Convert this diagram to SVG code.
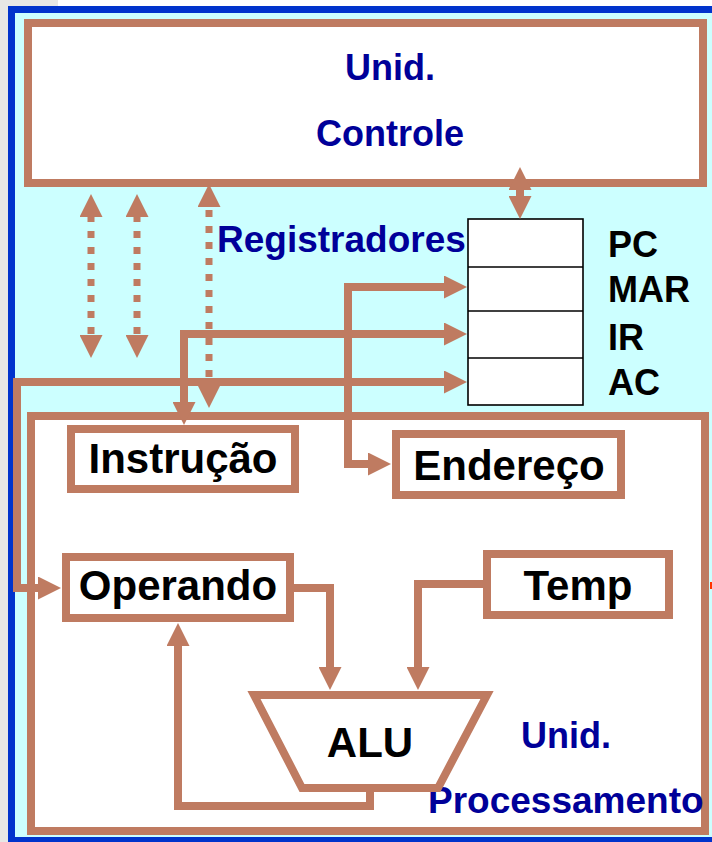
<svg xmlns="http://www.w3.org/2000/svg" width="712" height="842" viewBox="0 0 712 842">
<style>
.box{fill:#ffffff;stroke:#bf7b61;stroke-width:8}
.reg{fill:#ffffff;stroke:#000000;stroke-width:1.6}
.con{fill:none;stroke:#bf7b61;stroke-width:8;stroke-linejoin:miter}
.dot{fill:none;stroke:#bf7b61;stroke-width:7;stroke-dasharray:7 9}
.lbl{font-family:"Liberation Sans",Arial,sans-serif;font-weight:bold;font-size:42px;fill:#000000;text-anchor:middle}
.reglbl{font-family:"Liberation Sans",Arial,sans-serif;font-weight:bold;font-size:36px;fill:#000000}
.blue{font-family:"Liberation Sans",Arial,sans-serif;font-weight:bold;font-size:36px;fill:#000099}
.blue37{font-size:37px}
</style>
<defs>
<marker id="ah" markerUnits="userSpaceOnUse" viewBox="0 0 23 23" markerWidth="23" markerHeight="23" refX="0" refY="11.5" orient="auto-start-reverse">
<path d="M0,0 L23,11.5 L0,23 Z" fill="#bf7b61"/>
</marker>
</defs>
<rect x="0" y="0" width="712" height="842" fill="#ffffff"/>
<rect x="0" y="0" width="8" height="842" fill="#e7e7e5"/>
<rect x="0" y="0" width="58" height="6" fill="#e7e7e5"/>
<rect x="8" y="6" width="720" height="850" fill="#0033cc"/>
<rect x="15" y="13" width="720" height="824" fill="#ccffff"/>
<rect x="710" y="582" width="2" height="7" fill="#ff3300"/>

<g id="unid-controle">
<rect class="box" x="28" y="23" width="675" height="160"/>
<text class="blue" x="390" y="80" text-anchor="middle">Unid.</text>
<text class="blue" x="390" y="146" text-anchor="middle">Controle</text>
</g>

<g id="unid-processamento">
<rect class="box" x="31" y="416" width="674" height="415"/>
<text class="blue" x="521" y="748">Unid.</text>
<text class="blue blue37" x="428" y="813">Processamento</text>
</g>

<g id="registradores">
<text class="blue blue37" x="217" y="252">Registradores</text>
<rect class="reg" x="468" y="219" width="115" height="186"/>
<line class="reg" x1="468" y1="267" x2="583" y2="267"/>
<line class="reg" x1="468" y1="311" x2="583" y2="311"/>
<line class="reg" x1="468" y1="358" x2="583" y2="358"/>
<text class="reglbl" x="608" y="257">PC</text>
<text class="reglbl" x="608" y="302">MAR</text>
<text class="reglbl" x="608" y="350">IR</text>
<text class="reglbl" x="608" y="395">AC</text>
</g>

<g id="instrucao">
<rect class="box" x="71" y="429" width="224" height="60"/>
<text class="lbl" x="183" y="473">Instrução</text>
</g>

<g id="endereco">
<rect class="box" x="396" y="434" width="225" height="61"/>
<text class="lbl" x="509" y="480">Endereço</text>
</g>

<g id="operando">
<rect class="box" x="66" y="557" width="224" height="61"/>
<text class="lbl" x="178" y="600">Operando</text>
</g>

<g id="temp">
<rect class="box" x="487" y="554" width="182" height="61"/>
<text class="lbl" x="578" y="600">Temp</text>
</g>

<g id="alu">
<polygon class="box" points="254,695 487,695 438,788 302,788"/>
<text class="lbl" x="370" y="757">ALU</text>
</g>

<g id="connectors">
<polyline class="con" points="294,588 330,588 330,667" marker-end="url(#ah)"/>
<polyline class="con" points="483,584 418,584 418,667" marker-end="url(#ah)"/>
<polyline class="con" points="370,792 370,806 178,806 178,646" marker-end="url(#ah)"/>
<polyline class="con" points="444,382 17,382 17,588 38,588" marker-start="url(#ah)" marker-end="url(#ah)"/>
<polyline class="con" points="444,334 184,334 184,402" marker-start="url(#ah)" marker-end="url(#ah)"/>
<polyline class="con" points="444,287 348,287 348,464 368,464" marker-start="url(#ah)" marker-end="url(#ah)"/>
<polyline class="con" points="520,190 520,196" marker-start="url(#ah)" marker-end="url(#ah)"/>
<line class="dot" x1="91" y1="217" x2="91" y2="335" stroke-dashoffset="2" marker-start="url(#ah)" marker-end="url(#ah)"/>
<line class="dot" x1="137" y1="217" x2="137" y2="335" stroke-dashoffset="2" marker-start="url(#ah)" marker-end="url(#ah)"/>
<line class="dot" x1="209" y1="207" x2="209" y2="385" stroke-dashoffset="-3" marker-start="url(#ah)" marker-end="url(#ah)"/>
</g>
</svg>
